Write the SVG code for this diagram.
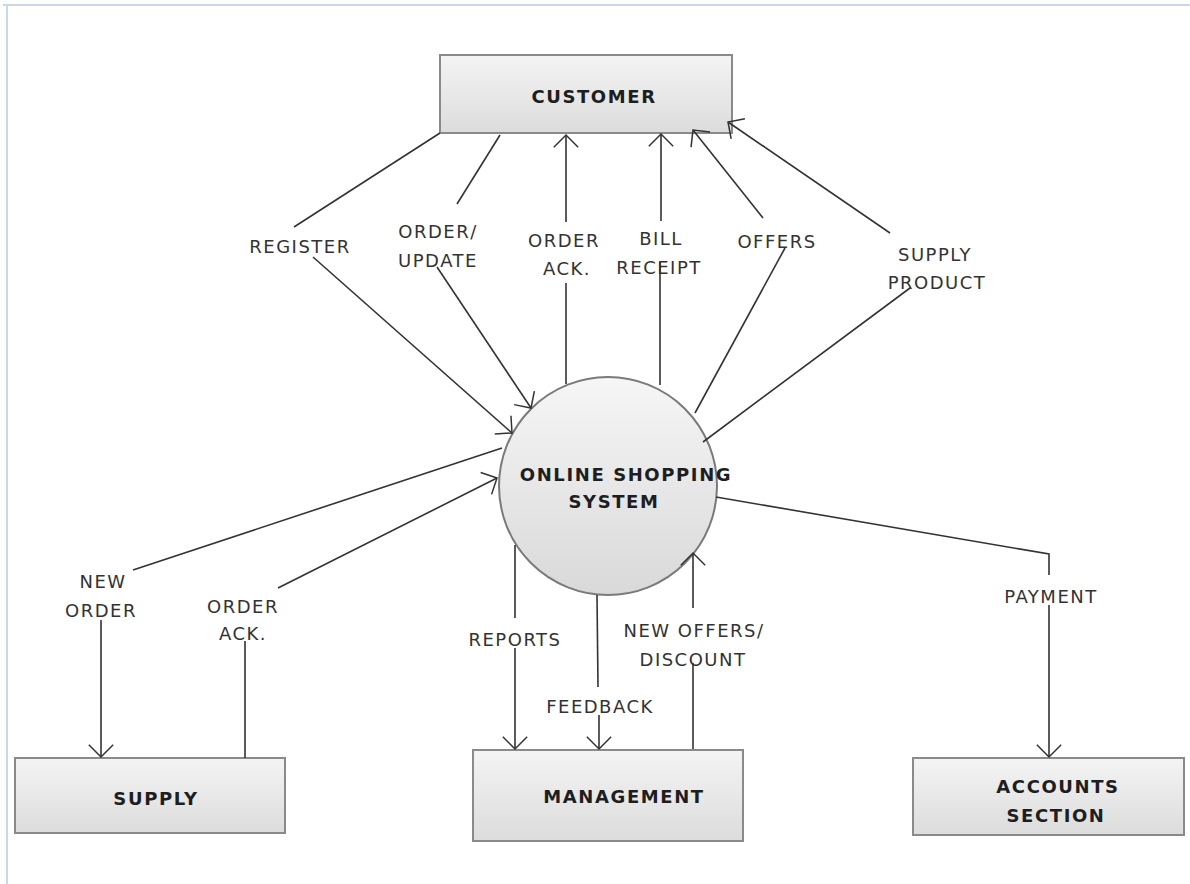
<svg xmlns="http://www.w3.org/2000/svg" width="1190" height="884" viewBox="0 0 1190 884">
  <defs>
    <linearGradient id="boxFill" x1="0" y1="0" x2="0" y2="1">
      <stop offset="0" stop-color="#f4f4f4"/>
      <stop offset="1" stop-color="#dcdcdc"/>
    </linearGradient>
    <linearGradient id="procFill" x1="0" y1="0" x2="0" y2="1">
      <stop offset="0" stop-color="#f6f6f6"/>
      <stop offset="1" stop-color="#d9d9d9"/>
    </linearGradient>
    <marker id="open" markerUnits="userSpaceOnUse" markerWidth="30" markerHeight="30" viewBox="-16 -16 32 32" refX="0" refY="0" orient="auto">
      <path d="M-13,-13 L0,0 L-13,13" fill="none" stroke="#333" stroke-width="1.6"/>
    </marker>
    <style>
      .entity { fill: url(#boxFill); stroke: #8a8a8a; stroke-width: 2; }
      .process { fill: url(#procFill); stroke: #7a7a7a; stroke-width: 2; }
      .name { font-family: "DejaVu Sans", sans-serif; font-weight: bold; font-size: 18px; letter-spacing: 1.6px; fill: #1e1e1e; text-anchor: middle; }
      .flow { fill: none; stroke: #333; stroke-width: 1.6; }
      .arrow { marker-end: url(#open); }
      .lbl { font-family: "DejaVu Sans", sans-serif; font-size: 18px; letter-spacing: 1.5px; fill: #333; text-anchor: middle; }
      .frame { fill: none; stroke: #c9d7e9; stroke-width: 2; }
    </style>
  </defs>

  <rect width="1190" height="884" fill="#ffffff"/>
  <path class="frame" d="M3,5 H1190 M7,5 V884"/>

  <g id="customer">
    <rect class="entity" x="440" y="55" width="292" height="78"/>
    <text class="name" x="594" y="103">CUSTOMER</text>
  </g>

  <g id="online-shopping-system">
    <circle class="process" cx="608" cy="486" r="109"/>
    <text class="name" x="626" y="481">ONLINE SHOPPING</text>
    <text class="name" x="614" y="508">SYSTEM</text>
  </g>

  <g id="supply">
    <rect class="entity" x="15" y="758" width="270" height="75"/>
    <text class="name" x="156" y="805">SUPPLY</text>
  </g>

  <g id="management">
    <rect class="entity" x="473" y="750" width="270" height="91"/>
    <text class="name" x="624" y="803">MANAGEMENT</text>
  </g>

  <g id="accounts-section">
    <rect class="entity" x="913" y="758" width="271" height="77"/>
    <text class="name" x="1058" y="793">ACCOUNTS</text>
    <text class="name" x="1056" y="822">SECTION</text>
  </g>

  <!-- data flows, drawn over the nodes so arrowheads stay visible -->
  <g id="connectors">
    <!-- register -->
    <line class="flow" x1="440" y1="133" x2="294" y2="227"/>
    <line class="flow arrow" x1="313" y1="257" x2="512" y2="433"/>
    <!-- order / update -->
    <line class="flow" x1="500" y1="135" x2="457" y2="204"/>
    <line class="flow arrow" x1="437" y1="267" x2="531" y2="408"/>
    <!-- order acknowledgement to customer -->
    <line class="flow" x1="566" y1="384" x2="566" y2="283"/>
    <line class="flow arrow" x1="566" y1="222" x2="566" y2="135"/>
    <!-- bill receipt -->
    <line class="flow" x1="660" y1="385" x2="660" y2="262"/>
    <line class="flow arrow" x1="661" y1="221" x2="661" y2="134"/>
    <!-- offers -->
    <line class="flow" x1="695" y1="413" x2="785" y2="248"/>
    <line class="flow arrow" x1="763" y1="218" x2="693" y2="130"/>
    <!-- supply product -->
    <line class="flow" x1="703" y1="442" x2="910" y2="288"/>
    <line class="flow arrow" x1="890" y1="233" x2="728" y2="122"/>
    <!-- new order to supply -->
    <line class="flow" x1="502" y1="448" x2="133" y2="570"/>
    <line class="flow arrow" x1="101" y1="620" x2="101" y2="757"/>
    <!-- order acknowledgement from supply -->
    <line class="flow" x1="245" y1="758" x2="245" y2="641"/>
    <line class="flow arrow" x1="278" y1="588" x2="497" y2="478"/>
    <!-- reports -->
    <line class="flow" x1="515" y1="545" x2="515" y2="618"/>
    <line class="flow arrow" x1="515" y1="648" x2="515" y2="749"/>
    <!-- feedback -->
    <line class="flow" x1="597" y1="595" x2="598" y2="687"/>
    <line class="flow arrow" x1="599" y1="715" x2="599" y2="749"/>
    <!-- new offers / discount -->
    <line class="flow" x1="693" y1="749" x2="693" y2="663"/>
    <line class="flow arrow" x1="693" y1="608" x2="693" y2="553"/>
    <!-- payment -->
    <polyline class="flow" points="716,497 1049,554 1049,575"/>
    <line class="flow arrow" x1="1049" y1="605" x2="1049" y2="757"/>
  </g>

  <!-- flow labels -->
  <g id="flow-labels">
    <text class="lbl" x="300" y="253">REGISTER</text>
    <text class="lbl" x="438" y="238">ORDER/</text>
    <text class="lbl" x="438" y="267">UPDATE</text>
    <text class="lbl" x="564" y="247">ORDER</text>
    <text class="lbl" x="567" y="275">ACK.</text>
    <text class="lbl" x="661" y="245">BILL</text>
    <text class="lbl" x="659" y="274">RECEIPT</text>
    <text class="lbl" x="777" y="248">OFFERS</text>
    <text class="lbl" x="935" y="261">SUPPLY</text>
    <text class="lbl" x="937" y="289">PRODUCT</text>
    <text class="lbl" x="103" y="588">NEW</text>
    <text class="lbl" x="101" y="617">ORDER</text>
    <text class="lbl" x="243" y="613">ORDER</text>
    <text class="lbl" x="243" y="640">ACK.</text>
    <text class="lbl" x="515" y="646">REPORTS</text>
    <text class="lbl" x="694" y="637">NEW OFFERS/</text>
    <text class="lbl" x="693" y="666">DISCOUNT</text>
    <text class="lbl" x="600" y="713">FEEDBACK</text>
    <text class="lbl" x="1051" y="603">PAYMENT</text>
  </g>
</svg>
